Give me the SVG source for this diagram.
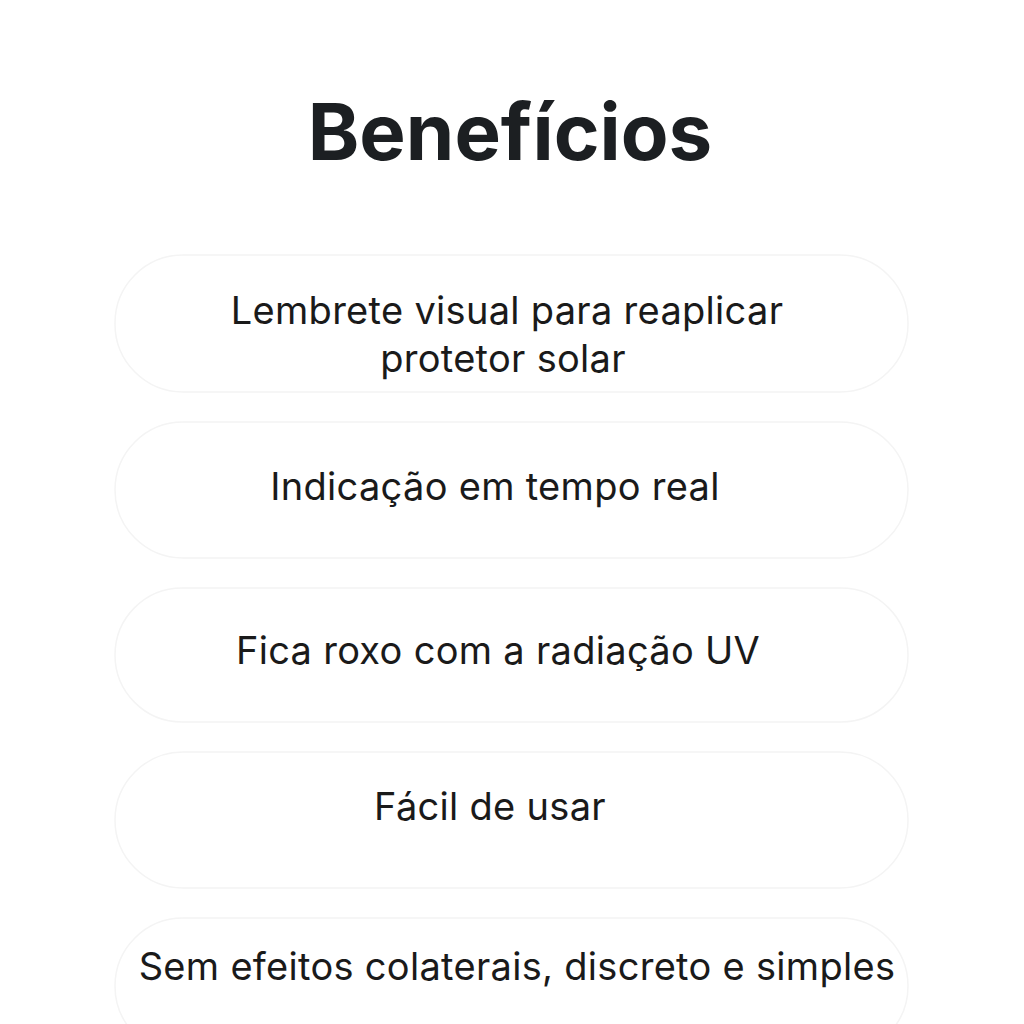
<svg xmlns="http://www.w3.org/2000/svg" width="1024" height="1024" viewBox="0 0 1024 1024">
<style>
.card{fill:#ffffff;stroke:#f4f4f4;stroke-width:1.5}
.t{font-family:Inter,"Liberation Sans",sans-serif;font-size:38px;fill:#1a1a1a;text-anchor:middle;letter-spacing:0.3px}
.title{font-family:Inter,"Liberation Sans",sans-serif;font-size:78px;font-weight:bold;fill:#1c1f22;text-anchor:middle}
</style>
<rect width="1024" height="1024" fill="#ffffff"/>
<text class="title" x="510" y="160">Benefícios</text>
<g id="n1"><rect class="card" x="115" y="255" width="793" height="137" rx="68"/><text class="t" x="507" y="324">Lembrete visual para reaplicar</text><text class="t" x="503" y="372">protetor solar</text></g>
<g id="n2"><rect class="card" x="115" y="422" width="793" height="136" rx="68"/><text class="t" x="495" y="500">Indicação em tempo real</text></g>
<g id="n3"><rect class="card" x="115" y="588" width="793" height="134" rx="67"/><text class="t" x="498" y="664">Fica roxo com a radiação UV</text></g>
<g id="n4"><rect class="card" x="115" y="752" width="793" height="136" rx="68"/><text class="t" x="490" y="820">Fácil de usar</text></g>
<g id="n5"><rect class="card" x="115" y="918" width="793" height="136" rx="68"/><text class="t" x="517" y="980">Sem efeitos colaterais, discreto e simples</text></g>
<g id="connectors"/>
</svg>
